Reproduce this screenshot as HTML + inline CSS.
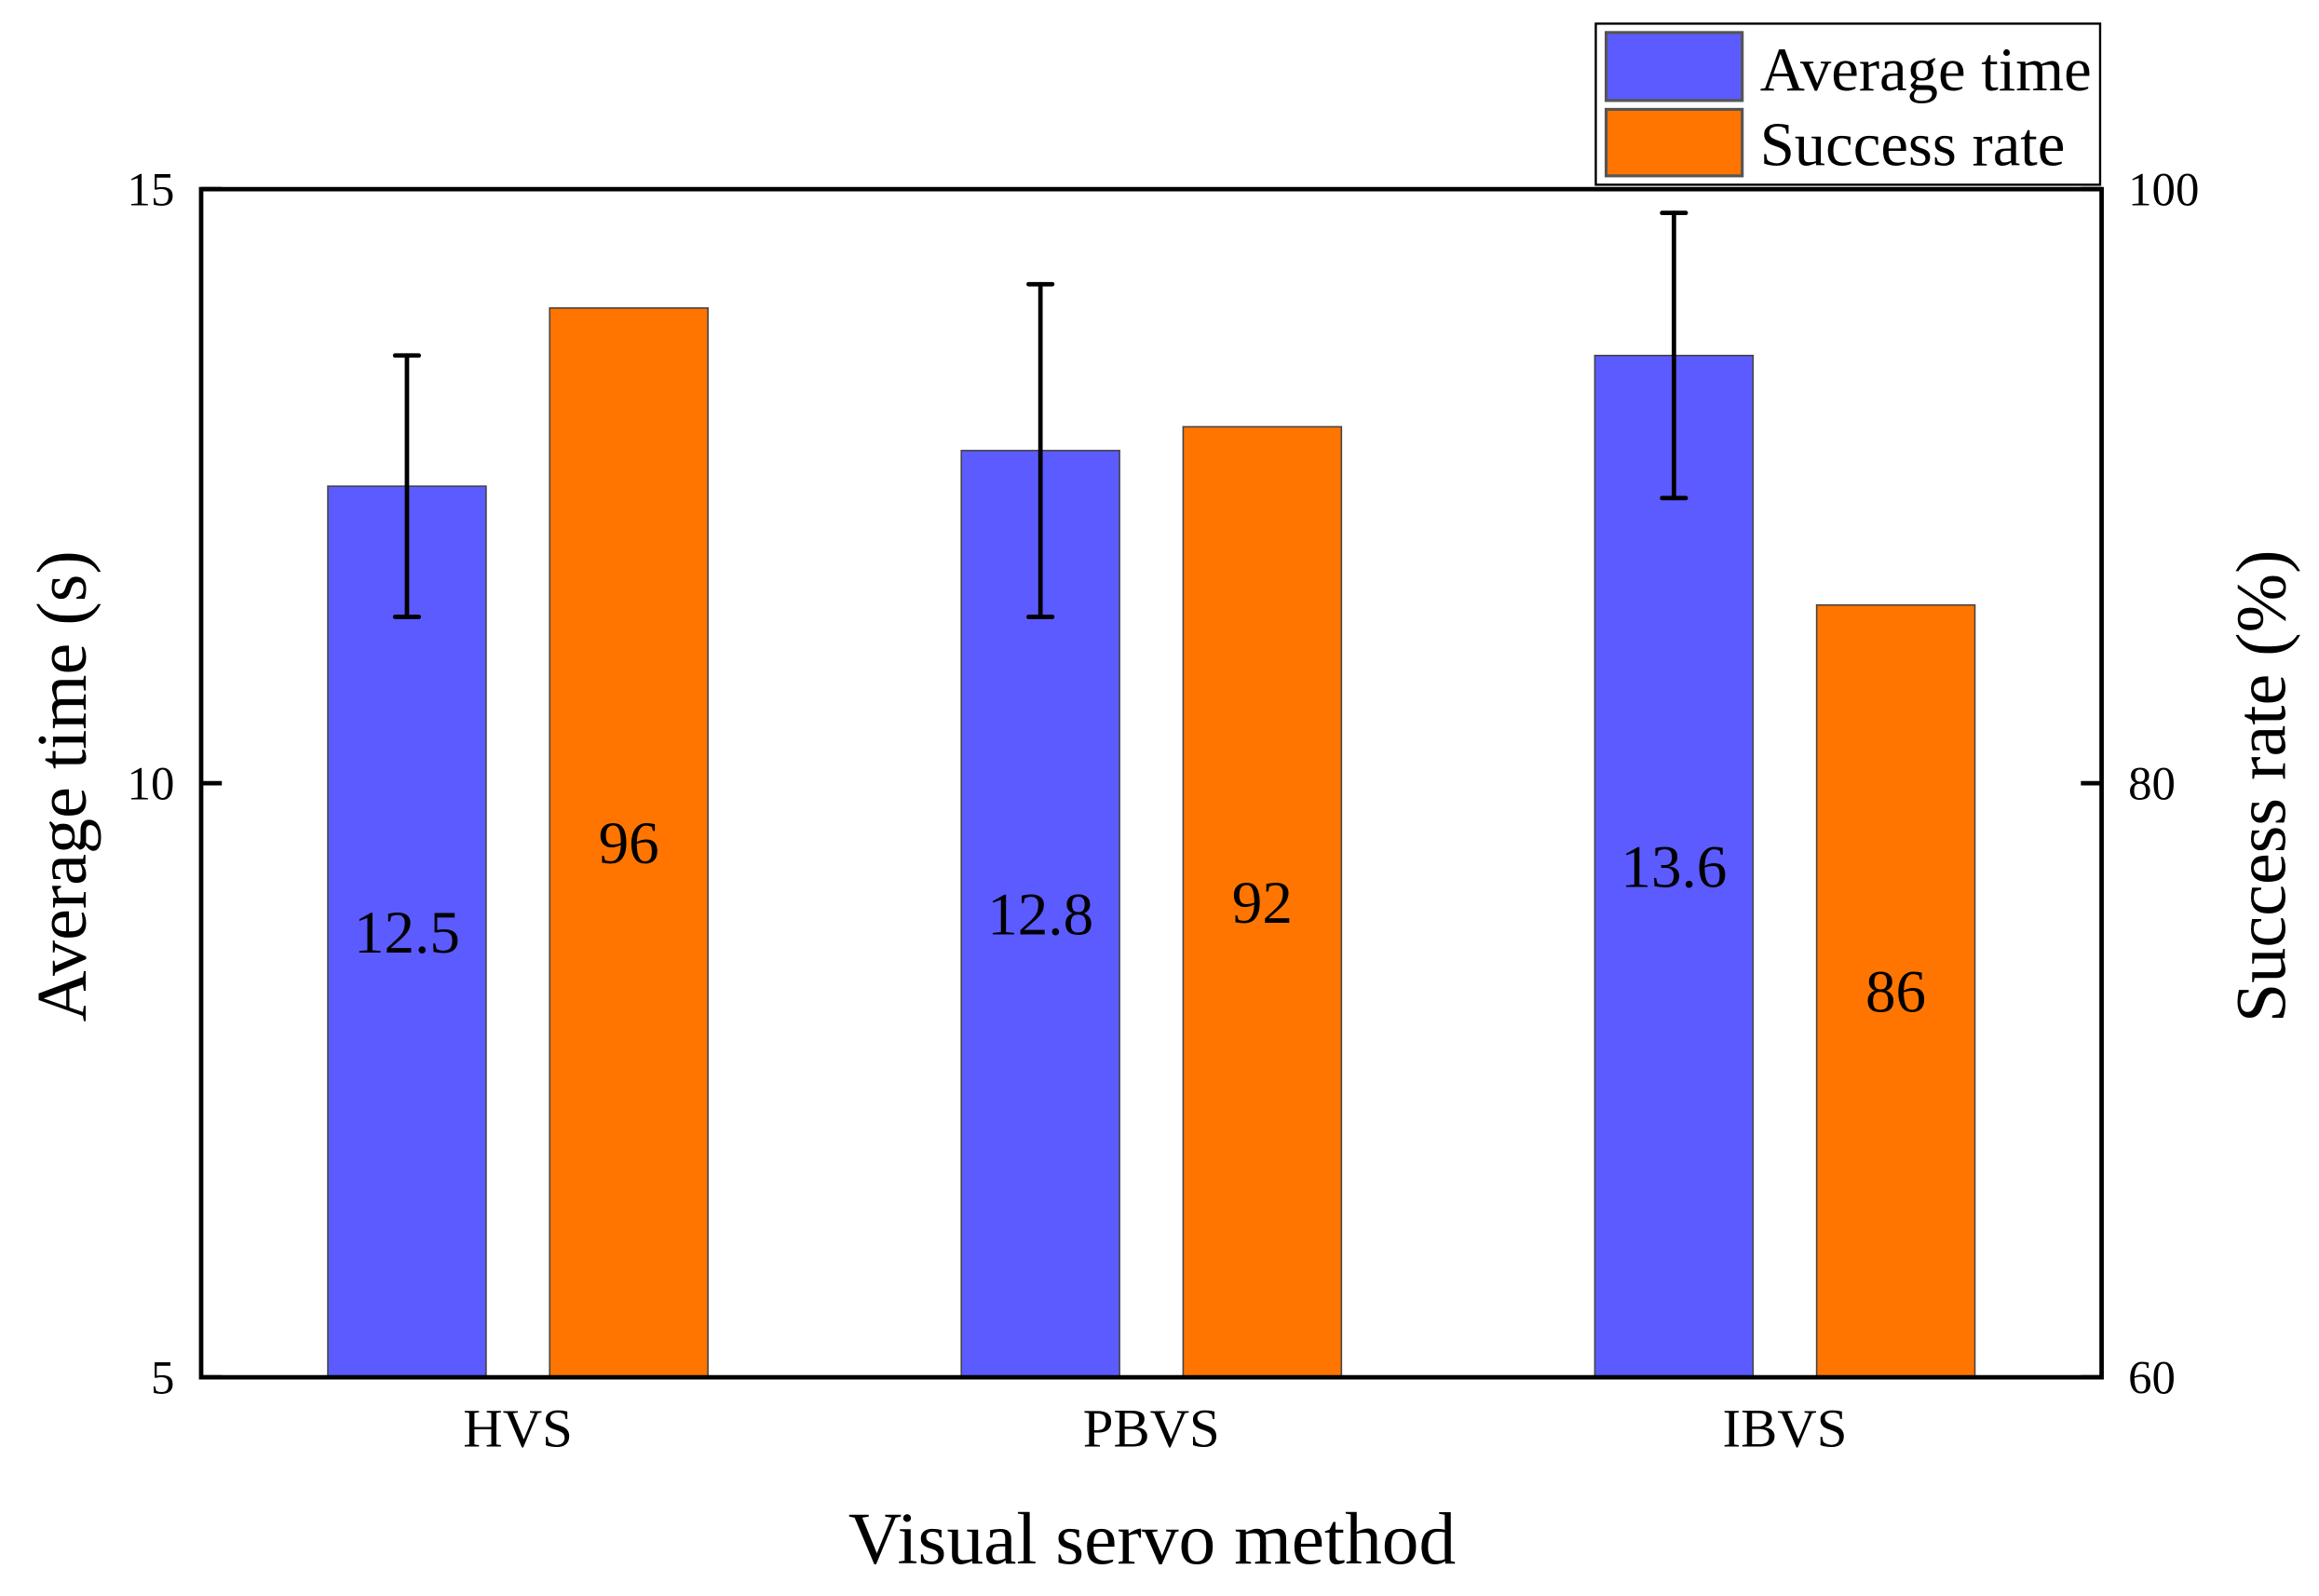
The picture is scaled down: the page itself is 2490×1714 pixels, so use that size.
<!DOCTYPE html>
<html><head><meta charset="utf-8"><style>
html,body{margin:0;padding:0;background:#fff;}
svg{display:block;font-family:"Liberation Serif",serif;}
</style></head><body>
<svg id="chart" width="2490" height="1714" viewBox="0 0 1568 1080" preserveAspectRatio="none" xmlns="http://www.w3.org/2000/svg">
<g id="marks"></g>
<g id="axes"></g>
</svg>
<script>
const categories = ["HVS", "PBVS", "IBVS"];
const timeValues = [12.5, 12.8, 13.6];
const timeErrLow = [11.4, 11.4, 12.4];
const timeErrHigh = [13.6, 14.2, 14.8];
const successValues = [96, 92, 86];
const leftTicks = [5, 10, 15];
const rightTicks = [60, 80, 100];

const NS = "http://www.w3.org/2000/svg";
const L = 136, R = 1421, T = 128, B = 932;
const yL = v => B - (v - 5) / 10 * (B - T);
const yR = v => B - (v - 60) / 40 * (B - T);
const xC = i => L + (i + 0.5) * (R - L) / categories.length;
const BW = 107, OFF = 75;
const marks = document.getElementById('marks');
const axes = document.getElementById('axes');
function mk(tag, attrs, parent, text) {
  const e = document.createElementNS(NS, tag);
  for (const k in attrs) e.setAttribute(k, attrs[k]);
  if (text !== undefined) e.textContent = text;
  parent.appendChild(e);
  return e;
}
categories.forEach((c, i) => {
  const cx = xC(i);
  const bx = cx - OFF, ox = cx + OFF;
  let b = mk('rect', {x: bx - BW/2, y: yL(timeValues[i]), width: BW, height: B - yL(timeValues[i]), fill: '#5b5bff', stroke: '#444', 'stroke-width': 1}, marks);
  
  
  let o = mk('rect', {x: ox - BW/2, y: yR(successValues[i]), width: BW, height: B - yR(successValues[i]), fill: '#ff7500', stroke: '#444', 'stroke-width': 1}, marks);
  
  
  const eg = mk('g', {stroke: '#000', 'stroke-width': 3, 'stroke-linecap': 'round'}, marks);
  
  
  mk('line', {x1: bx, x2: bx, y1: yL(timeErrLow[i]), y2: yL(timeErrHigh[i])}, eg);
  mk('line', {x1: bx - 8, x2: bx + 8, y1: yL(timeErrLow[i]), y2: yL(timeErrLow[i])}, eg);
  mk('line', {x1: bx - 8, x2: bx + 8, y1: yL(timeErrHigh[i]), y2: yL(timeErrHigh[i])}, eg);
  let t1 = mk('text', {x: bx, y: (yL(timeValues[i]) + B) / 2 + 14, 'font-size': 41, 'text-anchor': 'middle'}, marks, String(timeValues[i]));
  
  
  let t2 = mk('text', {x: ox, y: (yR(successValues[i]) + B) / 2 + 14, 'font-size': 41, 'text-anchor': 'middle'}, marks, String(successValues[i]));
  
  
  let cl = mk('text', {x: cx, y: 979, 'font-size': 37, 'text-anchor': 'middle'}, axes, c);
  
  
});
let frame = mk('rect', {x: L, y: T, width: R - L, height: B - T, fill: 'none', stroke: '#000', 'stroke-width': 3}, axes);


leftTicks.forEach(v => {
  mk('line', {x1: L, x2: L + 14, y1: yL(v), y2: yL(v), stroke: '#000', 'stroke-width': 3}, axes);
  let t = mk('text', {x: 118, y: yL(v) + 11, 'font-size': 32, 'text-anchor': 'end'}, axes, String(v));
  
  
});
rightTicks.forEach(v => {
  mk('line', {x1: R - 14, x2: R, y1: yR(v), y2: yR(v), stroke: '#000', 'stroke-width': 3}, axes);
  let t = mk('text', {x: 1439, y: yR(v) + 11, 'font-size': 32}, axes, String(v));
  
  
});
</script>
<svg style="position:absolute;left:0;top:0" width="2490" height="1714" viewBox="0 0 1568 1080" preserveAspectRatio="none" xmlns="http://www.w3.org/2000/svg" font-family="Liberation Serif, serif">
  <text x="779" y="1058" font-size="50" text-anchor="middle">Visual servo method</text>
  <text transform="translate(58,532) rotate(-90)" font-size="48" text-anchor="middle">Average time (s)</text>
  <text transform="translate(1545,532) rotate(-90)" font-size="48" text-anchor="middle">Success rate (%)</text>
  <g>
    <rect x="1079" y="16" width="341" height="109" fill="#fff" stroke="#000" stroke-width="1.5"/>
    <rect x="1086" y="22" width="92" height="46" fill="#5b5bff" stroke="#555" stroke-width="2"/>
    <rect x="1086" y="74" width="92" height="45" fill="#ff7500" stroke="#555" stroke-width="2"/>
    <text x="1190" y="61" font-size="42">Average time</text>
    <text x="1190" y="112" font-size="42">Success rate</text>
  </g>
</svg>
</body></html>
